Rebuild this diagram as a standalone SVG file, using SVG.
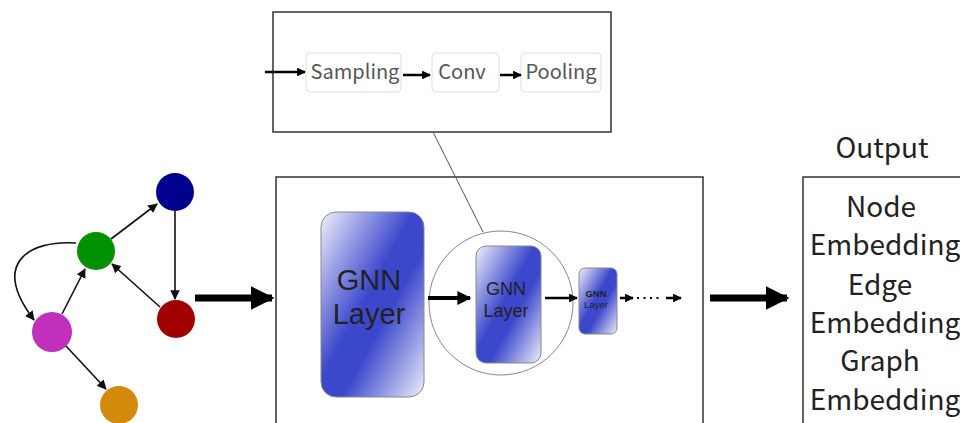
<svg xmlns="http://www.w3.org/2000/svg" width="960" height="423" viewBox="0 0 960 423">
  <defs>
    <style>
      .frame { fill: #fff; stroke: #333; stroke-width: 1.5; }
      .step { fill: #fff; stroke: #ddd; stroke-width: 1; }
      .step-text { font-family: "Noto Sans CJK JP", "Noto Sans", sans-serif; font-size: 20px; fill: #555; text-anchor: middle; }
      .layer { stroke: #888; stroke-width: 1; fill: url(#layerFill); }
      .layer-text { font-family: "Liberation Sans", Arial, sans-serif; fill: #222; text-anchor: middle; }
      .out-text { font-family: "Noto Sans CJK JP", "Noto Sans", sans-serif; font-size: 28px; fill: #222; text-anchor: middle; }
      .edge { stroke: #111; stroke-width: 1.6; fill: none; marker-end: url(#tip); }
      .thin { stroke: #000; stroke-width: 2.5; fill: none; marker-end: url(#tipSmall); }
      .fat { stroke: #000; stroke-width: 7; fill: none; marker-end: url(#tipBig); }
    </style>
    <linearGradient id="layerFill" x1="0" y1="0" x2="1" y2="1">
      <stop offset="0" stop-color="#f0f0fb"/>
      <stop offset="0.45" stop-color="#3c48cc"/>
      <stop offset="0.6" stop-color="#3c48cc"/>
      <stop offset="1" stop-color="#eeeefa"/>
    </linearGradient>
    <marker id="tip" viewBox="0 0 10 10" refX="9" refY="5" markerWidth="6" markerHeight="6" orient="auto" markerUnits="strokeWidth">
      <path d="M0,0 L10,5 L0,10 z" fill="#111"/>
    </marker>
    <marker id="tipSmall" viewBox="0 0 10 10" refX="9" refY="5" markerWidth="3.5" markerHeight="3.5" orient="auto" markerUnits="strokeWidth">
      <path d="M0,0 L10,5 L0,10 z" fill="#000"/>
    </marker>
    <marker id="tipBig" viewBox="0 0 10 10" refX="9" refY="5" markerWidth="3.4" markerHeight="3.4" orient="auto" markerUnits="strokeWidth">
      <path d="M0,0 L10,5 L0,10 z" fill="#000"/>
    </marker>
  </defs>

  <rect width="960" height="423" fill="#fff"/>

  <!-- zoom-in detail panel -->
  <g id="detail-panel">
    <rect class="frame" x="273" y="12" width="338" height="120"/>
  </g>
  <g id="sampling">
    <rect class="step" x="306" y="53" width="95" height="39" rx="4"/>
    <text class="step-text" x="355" y="79">Sampling</text>
  </g>
  <g id="conv">
    <rect class="step" x="432" y="53" width="67" height="39" rx="4"/>
    <text class="step-text" x="462" y="79">Conv</text>
  </g>
  <g id="pooling">
    <rect class="step" x="521" y="53" width="80" height="39" rx="4"/>
    <text class="step-text" x="561" y="79">Pooling</text>
  </g>

  <!-- model frame -->
  <g id="model">
    <rect class="frame" x="276" y="177" width="427" height="260"/>
  </g>
  <g id="lens">
    <circle cx="501" cy="303" r="72" fill="#fff" stroke="#888" stroke-width="1"/>
  </g>
  <g id="gnn-layer-1">
    <rect class="layer" x="321" y="212" width="103" height="185" rx="15"/>
    <text class="layer-text" x="369" y="290" font-size="29">GNN</text>
    <text class="layer-text" x="369" y="324" font-size="29">Layer</text>
  </g>
  <g id="gnn-layer-2">
    <rect class="layer" x="476" y="246" width="65" height="117" rx="10"/>
    <text class="layer-text" x="506" y="295" font-size="18">GNN</text>
    <text class="layer-text" x="506" y="317" font-size="18">Layer</text>
  </g>
  <g id="gnn-layer-3">
    <rect class="layer" x="579" y="268" width="38" height="66" rx="6"/>
    <text class="layer-text" x="596" y="297" font-size="9.5" font-weight="bold">GNN</text>
    <text class="layer-text" x="596" y="308" font-size="9.5">Layer</text>
  </g>

  <!-- output -->
  <g id="output">
    <text class="out-text" x="882" y="158" font-size="27">Output</text>
    <rect class="frame" x="803" y="177" width="170" height="260"/>
    <text class="out-text" x="881" y="217">Node</text>
    <text class="out-text" x="885" y="255">Embedding</text>
    <text class="out-text" x="880" y="295">Edge</text>
    <text class="out-text" x="885" y="333">Embedding</text>
    <text class="out-text" x="880" y="371">Graph</text>
    <text class="out-text" x="885" y="410">Embedding</text>
  </g>

  <!-- input graph vertices -->
  <g id="v-blue"><circle cx="175" cy="192" r="19" fill="#00008f"/></g>
  <g id="v-green"><circle cx="96" cy="251" r="19" fill="#009000"/></g>
  <g id="v-red"><circle cx="176" cy="319" r="19" fill="#a00000"/></g>
  <g id="v-magenta"><circle cx="52" cy="332" r="20" fill="#c030bb"/></g>
  <g id="v-orange"><circle cx="119" cy="405" r="19" fill="#d48a0a"/></g>

  <!-- connectors -->
  <g id="connectors">
    <line class="edge" x1="111" y1="239" x2="157" y2="204"/>
    <line class="edge" x1="175" y1="211" x2="175" y2="299"/>
    <line class="edge" x1="160" y1="307" x2="112" y2="264"/>
    <line class="edge" x1="62" y1="314" x2="85" y2="269"/>
    <line class="edge" x1="66" y1="346" x2="106" y2="389"/>
    <path class="edge" d="M76,243 C30,240 -10,262 34,320"/>

    <line class="fat" x1="195" y1="298" x2="272" y2="298"/>
    <line class="fat" x1="710" y1="298" x2="787" y2="298"/>

    <line class="thin" x1="265" y1="72" x2="305" y2="72"/>
    <line class="thin" x1="403" y1="75" x2="430" y2="75"/>
    <line class="thin" x1="500" y1="75" x2="521" y2="75"/>

    <line x1="433" y1="132" x2="483" y2="232" stroke="#555" stroke-width="1"/>

    <line x1="428" y1="298" x2="470" y2="298" stroke="#000" stroke-width="4" marker-end="url(#tipSmall)"/>
    <line class="thin" x1="545" y1="298" x2="577" y2="298" stroke-width="3"/>
    <line class="thin" x1="620" y1="298" x2="633" y2="298" stroke-width="1.6"/>
    <line x1="637" y1="298" x2="662" y2="298" stroke="#000" stroke-width="2" stroke-dasharray="2 4.5"/>
    <line class="thin" x1="666" y1="298" x2="681" y2="298" stroke-width="1.6"/>
  </g>
</svg>
